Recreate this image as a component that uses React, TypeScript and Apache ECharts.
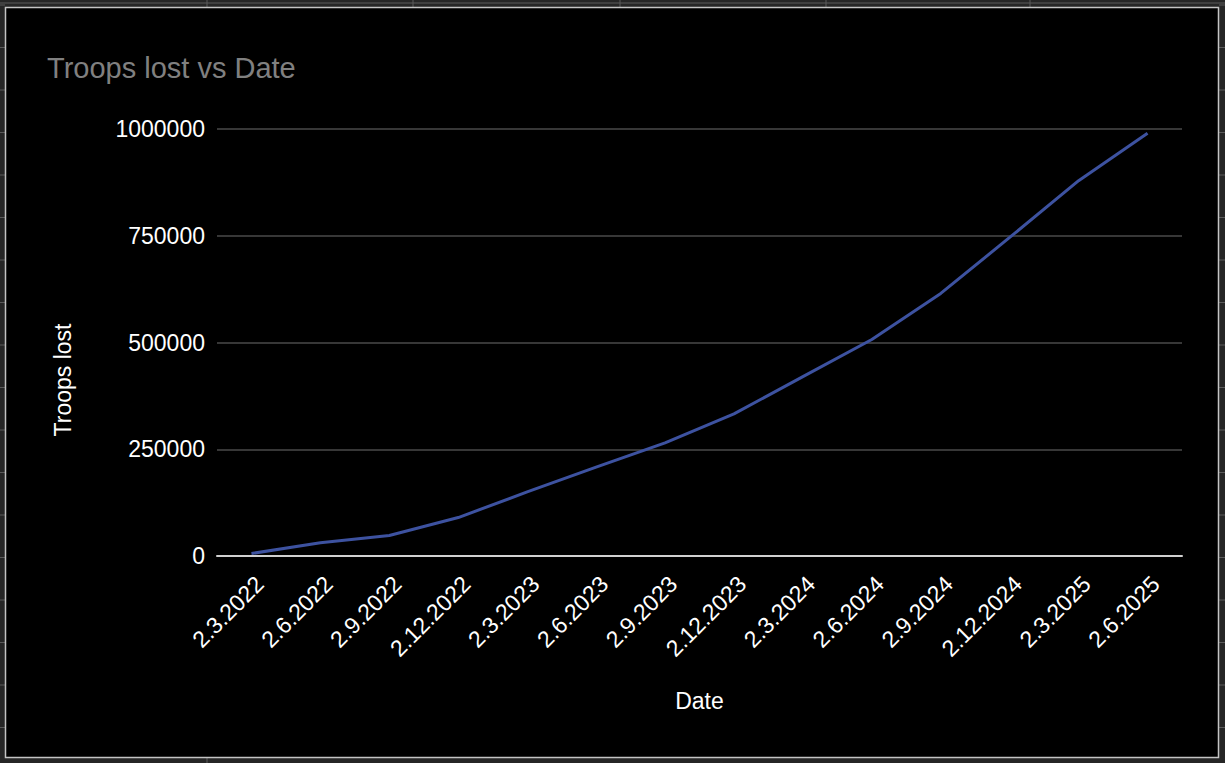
import React, { useEffect, useRef } from "react";
import * as echarts from "echarts";

const categories = [
  "2.3.2022", "2.6.2022", "2.9.2022", "2.12.2022",
  "2.3.2023", "2.6.2023", "2.9.2023", "2.12.2023",
  "2.3.2024", "2.6.2024", "2.9.2024", "2.12.2024",
  "2.3.2025", "2.6.2025",
];
const troopsLost = [
  5840, 31000, 48000, 90000,
  150000, 208000, 265000, 333000,
  420000, 507000, 615000, 746000,
  879000, 990000,
];
const yTicks = { min: 0, max: 1000000, interval: 250000 };
const titleText = "Troops lost vs Date";
const xName = "Date";
const yName = "Troops lost";

const FONT = "Liberation Sans, Arial, sans-serif";

export default function App() {
  const ref = useRef<HTMLDivElement>(null);
  useEffect(() => {
    if (!ref.current) return;
    const chart = echarts.init(ref.current, undefined, { renderer: "svg" });
    const sheetLines: any[] = [];
    [207, 413, 620, 826, 1030].forEach((x) =>
      sheetLines.push({ type: "line", z: -5, silent: true, shape: { x1: x, y1: 0, x2: x, y2: 7 }, style: { stroke: "#5a5a5a", lineWidth: 1 } })
    );
    [207].forEach((x) =>
      sheetLines.push({ type: "line", z: -5, silent: true, shape: { x1: x, y1: 758, x2: x, y2: 763 }, style: { stroke: "#5a5a5a", lineWidth: 1 } })
    );
    for (let y = 5; y < 763; y += 42.5) {
      sheetLines.push({ type: "line", z: -5, silent: true, shape: { x1: 0, y1: y, x2: 5, y2: y }, style: { stroke: "#5a5a5a", lineWidth: 1 } });
      sheetLines.push({ type: "line", z: -5, silent: true, shape: { x1: 1219, y1: y, x2: 1225, y2: y }, style: { stroke: "#5a5a5a", lineWidth: 1 } });
    }
    sheetLines.push({ type: "line", z: -5, silent: true, shape: { x1: 0, y1: 3, x2: 1225, y2: 3 }, style: { stroke: "#5a5a5a", lineWidth: 1 } });

    chart.setOption({
      animation: false,
      backgroundColor: "#262626",
      textStyle: { fontFamily: FONT },
      title: {
        text: titleText,
        left: 47,
        top: 53,
        padding: 0,
        textStyle: { color: "#808080", fontSize: 29, fontWeight: "normal", fontFamily: FONT },
      },
      graphic: [
        ...sheetLines,
        {
          type: "rect",
          z: -4,
          silent: true,
          shape: { x: 5.5, y: 7.5, width: 1213, height: 750 },
          style: { fill: "#000000", stroke: "#c4c4c4", lineWidth: 1.5 },
        },
        {
          type: "text",
          z: 10,
          x: 63,
          y: 380,
          rotation: Math.PI / 2,
          style: {
            text: yName,
            fill: "#ffffff",
            font: `23px ${FONT}`,
            align: "center",
            verticalAlign: "middle",
          },
        },
      ],
      grid: { left: 217, right: 43, top: 129, bottom: 207, containLabel: false },
      xAxis: {
        type: "category",
        data: categories,
        boundaryGap: true,
        name: xName,
        nameLocation: "middle",
        nameGap: 133,
        nameTextStyle: { color: "#ffffff", fontSize: 23, fontFamily: FONT },
        axisLine: { show: true, lineStyle: { color: "#d0d0d0", width: 2 } },
        axisTick: { show: false },
        axisLabel: {
          rotate: 45,
          color: "#ffffff",
          fontSize: 23,
          fontFamily: FONT,
          margin: 16,
          verticalAlign: "top",
          interval: 0,
        },
        splitLine: { show: false },
      },
      yAxis: {
        type: "value",
        min: yTicks.min,
        max: yTicks.max,
        interval: yTicks.interval,
        axisLine: { show: false },
        axisTick: { show: false },
        axisLabel: {
          color: "#ffffff",
          fontSize: 23,
          fontFamily: FONT,
          margin: 12,
          formatter: (v: number) => String(v),
        },
        splitLine: { show: true, lineStyle: { color: "#4a4a4a", width: 1.5 } },
      },
      series: [
        {
          type: "line",
          data: troopsLost,
          showSymbol: false,
          symbol: "none",
          lineStyle: { color: "#3d52a0", width: 3 },
          itemStyle: { color: "#3d52a0" },
          z: 3,
        },
      ],
    });
    return () => chart.dispose();
  }, []);
  return (
    <div
      ref={ref}
      style={{ position: "fixed", left: 0, top: 0, width: 1225, height: 763 }}
    />
  );
}
